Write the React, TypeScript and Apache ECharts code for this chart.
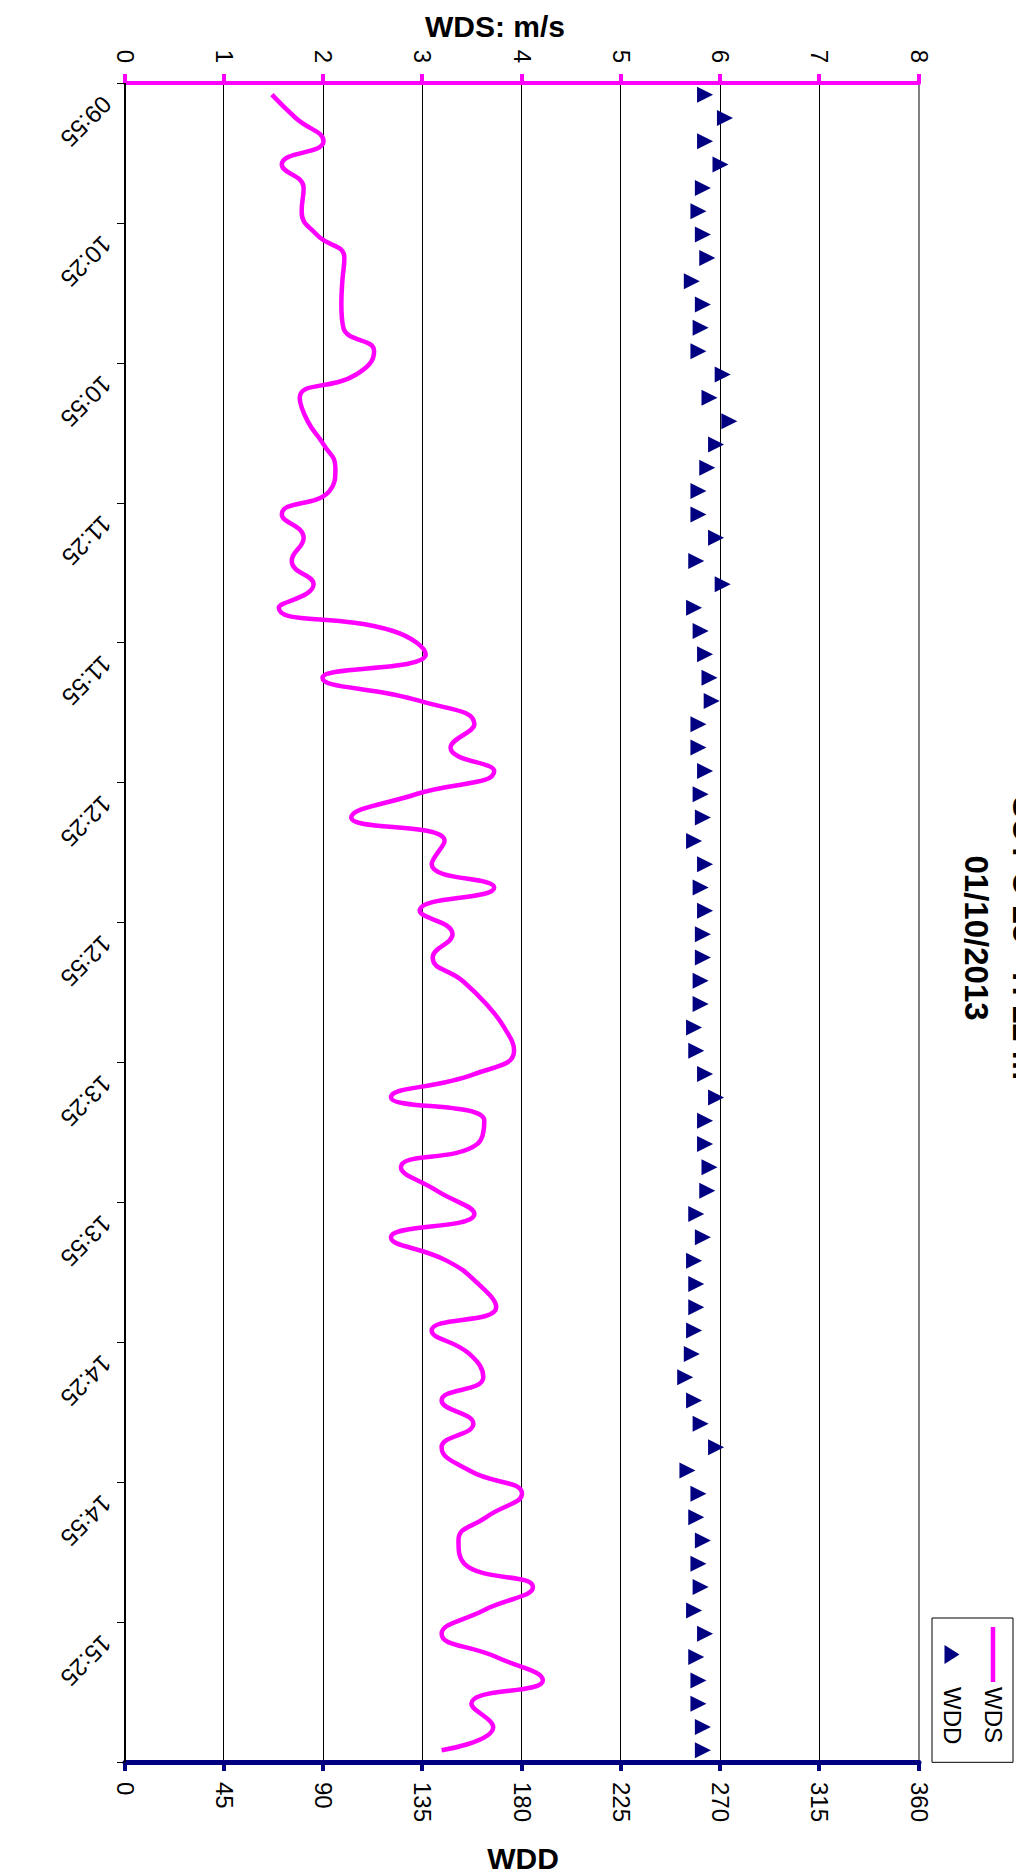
import React, { useEffect, useRef } from 'react';
import * as echarts from 'echarts';

const FONT = '"Liberation Sans", Arial, Helvetica, sans-serif';

const TITLE_LINES = ['SUT C-23 - H 12 m', '01/10/2013'];

const times = [
  '09:55', '10:00', '10:05', '10:10', '10:15', '10:20', '10:25', '10:30', '10:35', '10:40', '10:45', '10:50',
  '10:55', '11:00', '11:05', '11:10', '11:15', '11:20', '11:25', '11:30', '11:35', '11:40', '11:45', '11:50',
  '11:55', '12:00', '12:05', '12:10', '12:15', '12:20', '12:25', '12:30', '12:35', '12:40', '12:45', '12:50',
  '12:55', '13:00', '13:05', '13:10', '13:15', '13:20', '13:25', '13:30', '13:35', '13:40', '13:45', '13:50',
  '13:55', '14:00', '14:05', '14:10', '14:15', '14:20', '14:25', '14:30', '14:35', '14:40', '14:45', '14:50',
  '14:55', '15:00', '15:05', '15:10', '15:15', '15:20', '15:25', '15:30', '15:35', '15:40', '15:45', '15:50',
];

const wds = [
  1.48, 1.72, 2.0, 1.58, 1.8, 1.78, 1.93, 2.21, 2.19, 2.18, 2.2, 2.51,
  2.33, 1.76, 1.84, 2.0, 2.12, 2.06, 1.58, 1.8, 1.68, 1.9, 1.55, 2.7,
  3.03, 1.99, 2.97, 3.52, 3.28, 3.72, 2.93, 2.28, 3.22, 3.09, 3.72, 2.97,
  3.3, 3.1, 3.4, 3.64, 3.82, 3.92, 3.52, 2.68, 3.62, 3.55, 2.78, 3.14,
  3.52, 2.68, 3.24, 3.56, 3.74, 3.09, 3.47, 3.61, 3.19, 3.51, 3.19, 3.47,
  4.0, 3.64, 3.36, 3.42, 4.11, 3.61, 3.19, 3.74, 4.21, 3.49, 3.71, 3.19,
];

const wdd = [
  263, 272, 263, 270, 262, 260, 262, 264, 257, 262, 261, 260,
  271, 265, 274, 268, 264, 260, 260, 268, 259, 271, 258, 261,
  263, 265, 266, 260, 260, 263, 261, 262, 258, 263, 261, 263,
  262, 262, 261, 261, 258, 259, 263, 268, 263, 263, 265, 264,
  259, 262, 258, 259, 259, 258, 257, 254, 258, 261, 268, 255,
  260, 259, 262, 260, 261, 258, 263, 259, 260, 260, 262, 262,
];

const W = 1876;
const H = 1016;

export default function App() {
  const ref = useRef<HTMLDivElement>(null);

  useEffect(() => {
    if (!ref.current) return;
    const chart = echarts.init(ref.current, null, { renderer: 'svg', width: W, height: H });
    const gridColors = ['#000', '#000', '#000', '#000', '#000', '#000', '#000', '#000', '#808080'];
    chart.setOption({
      animation: false,
      backgroundColor: '#fff',
      textStyle: { fontFamily: FONT },
      title: {
        text: TITLE_LINES.join('\n'),
        left: 'center',
        top: -37,
        textStyle: { fontFamily: FONT, fontSize: 33, fontWeight: 'bold', color: '#000', lineHeight: 48 },
      },
      legend: {
        orient: 'vertical',
        left: 1618,
        top: 3,
        padding: [8, 18, 8, 9],
        itemGap: 17,
        itemWidth: 55,
        itemHeight: 15,
        symbolKeepAspect: true,
        borderColor: '#000',
        borderWidth: 1,
        borderRadius: 0,
        backgroundColor: '#fff',
        textStyle: { fontFamily: FONT, fontSize: 24, color: '#000' },
        data: [
          { name: 'WDS', icon: 'path://M0,0L110,0L110,9L0,9Z', itemStyle: { color: '#FF00FF' } },
          { name: 'WDD', icon: 'path://M0,15L9.5,0L19,15Z', itemStyle: { color: '#000080', opacity: 1 } },
        ],
      },
      grid: {
        left: 83,
        right: 114,
        top: 97,
        bottom: 125,
        show: true,
        borderColor: '#808080',
        borderWidth: 2,
        backgroundColor: 'transparent',
      },
      xAxis: {
        type: 'category',
        data: times,
        boundaryGap: true,
        axisLine: { show: true, lineStyle: { color: '#000', width: 2 } },
        axisTick: { show: true, interval: 5, length: 8, lineStyle: { color: '#000', width: 1 } },
        axisLabel: {
          interval: 5,
          rotate: -45,
          margin: 12,
          padding: [0, 0, 0, 8],
          fontFamily: FONT,
          fontSize: 24,
          color: '#000',
        },
        splitLine: { show: false },
      },
      yAxis: [
        {
          type: 'value',
          min: 0,
          max: 8,
          interval: 1,
          position: 'left',
          axisLine: { show: true, lineStyle: { color: '#FF00FF', width: 4 } },
          axisTick: { show: true, length: 9, lineStyle: { color: '#FF00FF', width: 4 } },
          axisLabel: { fontFamily: FONT, fontSize: 24, color: '#000', margin: 20 },
          splitLine: { show: true, lineStyle: { color: gridColors, width: 1 } },
        },
        {
          type: 'value',
          min: 0,
          max: 360,
          interval: 45,
          position: 'right',
          axisLine: { show: true, lineStyle: { color: '#000080', width: 5 } },
          axisTick: { show: true, length: 9, lineStyle: { color: '#000080', width: 4 } },
          axisLabel: { fontFamily: FONT, fontSize: 24, color: '#000', margin: 20 },
          splitLine: { show: false },
        },
      ],
      series: [
        {
          name: 'WDS',
          type: 'line',
          yAxisIndex: 0,
          data: wds,
          smooth: 0.5,
          symbol: 'none',
          lineStyle: { color: '#FF00FF', width: 4.5 },
          itemStyle: { color: '#FF00FF' },
          z: 3,
        },
        {
          name: 'WDD',
          type: 'scatter',
          yAxisIndex: 1,
          data: wdd,
          symbol: 'triangle',
          symbolSize: 16,
          itemStyle: { color: '#000080', opacity: 1 },
          z: 4,
        },
      ],
      graphic: [
        {
          type: 'text',
          x: 26,
          y: 521,
          rotation: Math.PI / 2,
          style: {
            text: 'WDS: m/s',
            fontFamily: FONT,
            fontSize: 30,
            fontWeight: 'bold',
            fill: '#000',
            align: 'center',
            verticalAlign: 'middle',
            textAlign: 'center',
            textVerticalAlign: 'middle',
          },
        },
        {
          type: 'text',
          x: 1858,
          y: 493,
          rotation: Math.PI / 2,
          style: {
            text: 'WDD',
            fontFamily: FONT,
            fontSize: 30,
            fontWeight: 'bold',
            fill: '#000',
            align: 'center',
            verticalAlign: 'middle',
            textAlign: 'center',
            textVerticalAlign: 'middle',
          },
        },
      ],
    });
    return () => chart.dispose();
  }, []);

  return (
    <div
      style={{
        position: 'absolute',
        left: 0,
        top: 0,
        width: H,
        height: W,
        overflow: 'hidden',
        background: '#fff',
      }}
    >
      <div
        ref={ref}
        style={{
          position: 'absolute',
          left: 0,
          top: 0,
          width: W,
          height: H,
          transformOrigin: '0 0',
          transform: `translate(${H}px, 0px) rotate(90deg)`,
        }}
      />
    </div>
  );
}
